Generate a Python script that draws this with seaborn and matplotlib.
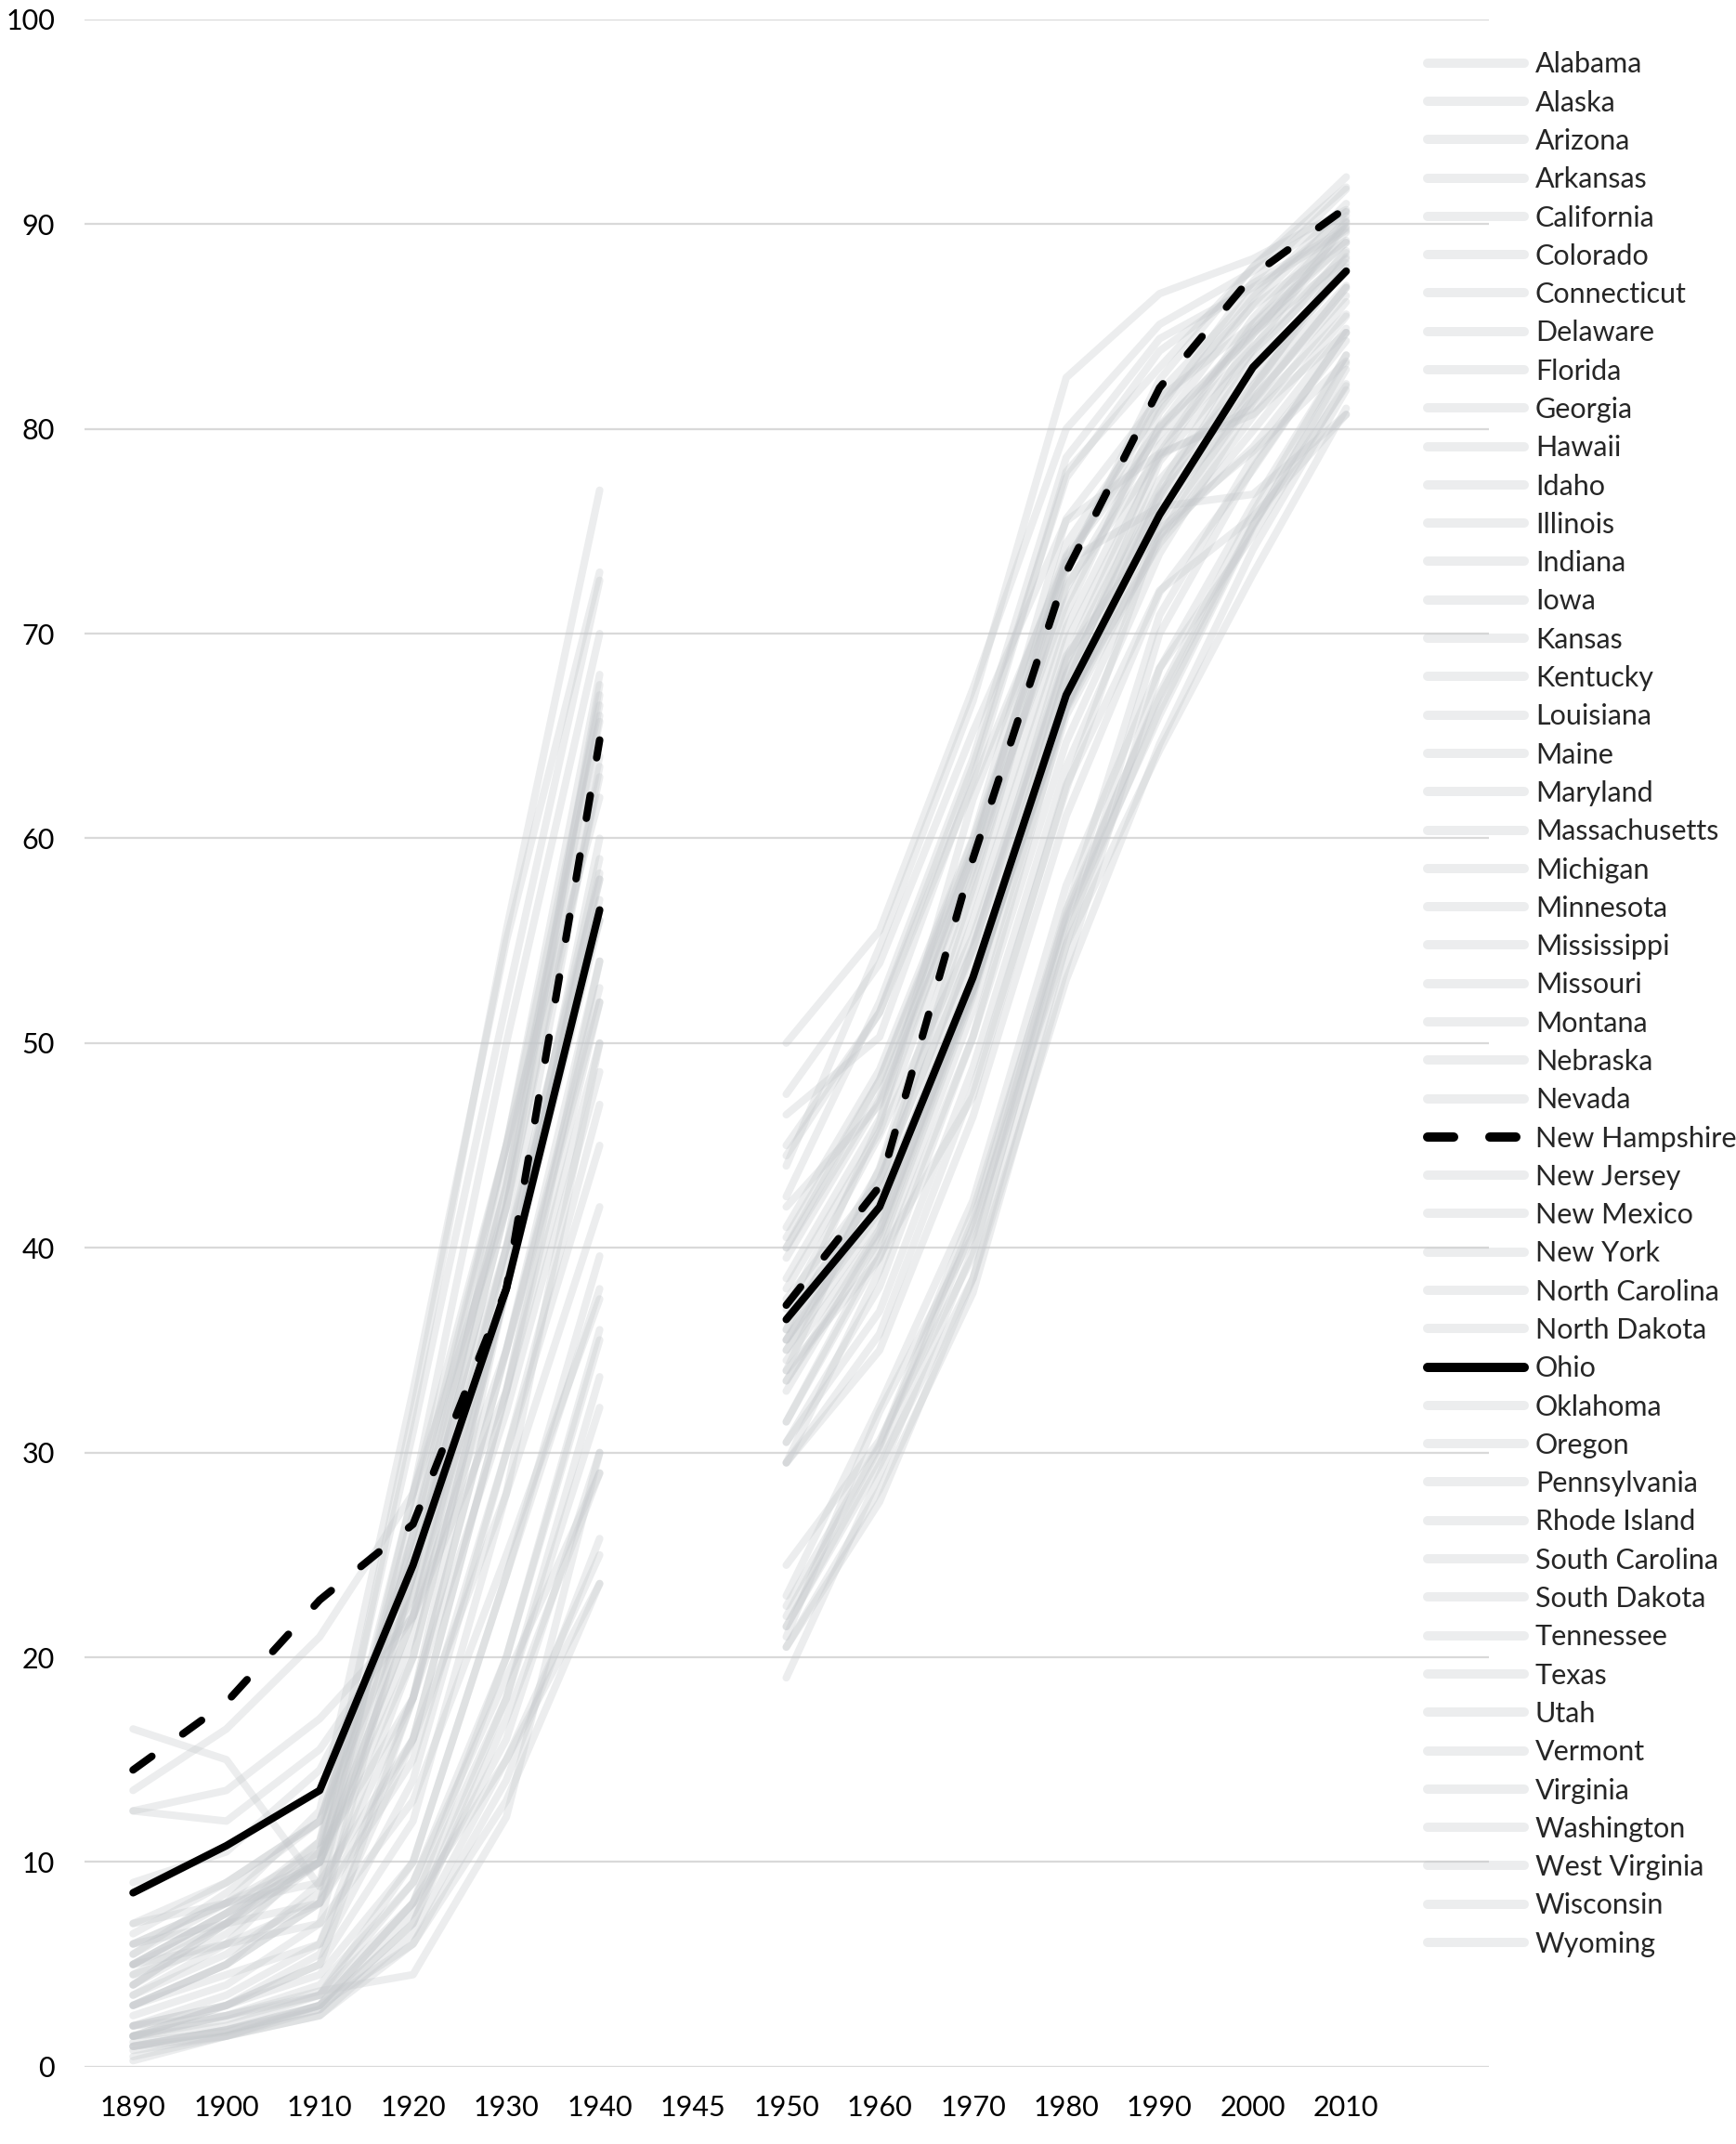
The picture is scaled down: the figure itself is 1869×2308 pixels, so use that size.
import pandas as pd
import numpy as np
import matplotlib
matplotlib.use('Agg')
import matplotlib.pyplot as plt
import seaborn as sns
from matplotlib.lines import Line2D

states = ['Alabama', 'Alaska', 'Arizona', 'Arkansas', 'California', 'Colorado', 'Connecticut',
          'Delaware', 'Florida', 'Georgia', 'Hawaii', 'Idaho', 'Illinois', 'Indiana', 'Iowa',
          'Kansas', 'Kentucky', 'Louisiana', 'Maine', 'Maryland', 'Massachusetts', 'Michigan',
          'Minnesota', 'Mississippi', 'Missouri', 'Montana', 'Nebraska', 'Nevada', 'New Hampshire',
          'New Jersey', 'New Mexico', 'New York', 'North Carolina', 'North Dakota', 'Ohio',
          'Oklahoma', 'Oregon', 'Pennsylvania', 'Rhode Island', 'South Carolina', 'South Dakota',
          'Tennessee', 'Texas', 'Utah', 'Vermont', 'Virginia', 'Washington', 'West Virginia',
          'Wisconsin', 'Wyoming']

# x axis categories (1945 is an empty category that splits the two series)
years = ['1890', '1900', '1910', '1920', '1930', '1940', '1945',
         '1950', '1960', '1970', '1980', '1990', '2000', '2010']

# values per year, same order as states
v1890 = [1.0, 3.0, 1.5, 0.8, 5.5, 4.0, 9.0, 6.0, 1.5, 1.2, 2.0, 2.5, 5.0, 6.5, 5.5, 4.5, 1.5, 1.0, 12.5, 5.0,
         13.5, 7.0, 4.0, 0.3, 3.5, 3.0, 4.0, 16.5, 14.5, 6.0, 0.5, 6.0, 1.0, 2.0, 8.5, 1.5, 5.0, 4.5, 7.0, 1.0,
         3.0, 1.5, 2.0, 3.5, 12.5, 2.0, 5.0, 1.5, 5.0, 3.0]
v1900 = [1.8, 4.5, 3.0, 1.5, 8.0, 7.0, 10.5, 7.0, 2.0, 1.7, 3.0, 4.0, 7.5, 9.0, 8.5, 7.0, 2.3, 1.8, 12.0, 6.0,
         16.5, 9.0, 6.5, 1.5, 5.5, 5.0, 7.0, 15.0, 17.8, 8.0, 1.5, 8.0, 1.5, 3.5, 10.8, 3.0, 7.0, 6.0, 8.0, 1.8,
         5.0, 2.5, 3.0, 6.0, 13.5, 2.5, 7.5, 2.5, 7.5, 5.0]
v1910 = [2.8, 6.0, 5.0, 2.5, 12.5, 10.0, 14.5, 8.0, 3.5, 3.0, 5.0, 7.0, 10.0, 12.0, 12.0, 10.5, 3.5, 3.0, 15.5, 7.0,
         21.0, 12.0, 10.0, 2.5, 8.5, 9.0, 11.0, 8.8, 22.8, 10.0, 3.0, 10.5, 2.8, 6.0, 13.5, 5.5, 10.0, 8.0, 9.0, 3.0,
         8.0, 3.5, 4.5, 10.5, 17.0, 3.7, 11.0, 4.0, 10.0, 8.0]
v1920 = [7.0, 18.0, 18.0, 6.0, 33.0, 27.0, 23.0, 15.0, 10.0, 7.5, 12.0, 24.0, 22.0, 25.0, 25.5, 24.0, 8.0, 8.0, 22.0, 13.0,
         28.0, 23.0, 22.0, 6.5, 18.0, 28.0, 26.0, 26.0, 26.5, 20.0, 8.0, 18.0, 7.0, 16.0, 24.5, 14.0, 28.0, 16.0, 16.0, 6.0,
         20.0, 9.0, 10.0, 32.0, 22.0, 4.5, 31.0, 9.0, 21.0, 24.0]
v1930 = [17.0, 35.0, 38.0, 14.0, 55.0, 45.0, 38.0, 30.0, 24.0, 16.0, 28.0, 44.0, 39.0, 40.0, 43.0, 42.0, 15.0, 18.0, 35.0, 25.0,
         42.0, 40.0, 40.0, 15.0, 32.0, 45.0, 43.0, 45.0, 38.0, 38.0, 20.0, 35.0, 18.0, 33.0, 38.0, 30.0, 50.0, 33.0, 28.0, 13.0,
         38.0, 19.0, 24.0, 55.5, 33.0, 12.2, 52.0, 20.0, 38.0, 42.0]
v1940 = [29.0, 52.0, 57.0, 25.8, 73.0, 66.5, 58.3, 45.0, 39.6, 30.0, 50.0, 65.7, 59.0, 56.0, 67.0, 64.0, 23.6, 32.2, 54.0, 37.5,
         63.0, 58.0, 63.5, 25.0, 48.6, 68.0, 66.0, 62.0, 64.8, 56.0, 35.5, 52.7, 33.7, 54.0, 56.5, 47.0, 70.0, 50.0, 42.0, 23.6,
         58.0, 29.0, 38.0, 77.0, 52.0, 30.0, 72.6, 36.0, 60.0, 67.5]
v1950 = [22.0, 44.0, 38.0, 19.0, 45.0, 42.5, 36.0, 35.5, 35.0, 21.0, 36.0, 40.0, 33.5, 35.5, 38.5, 40.5, 20.5, 23.0, 37.5, 31.5,
         42.0, 34.5, 34.0, 21.5, 30.5, 39.5, 40.0, 47.5, 37.2, 33.0, 37.0, 33.5, 21.5, 29.5, 36.5, 34.0, 41.0, 30.5, 29.5, 20.5,
         35.5, 22.5, 31.5, 50.0, 36.5, 29.5, 44.5, 24.5, 35.0, 46.5]
v1960 = [30.3, 54.7, 45.7, 28.9, 51.5, 52.0, 43.8, 43.3, 42.6, 32.0, 46.1, 48.2, 40.4, 41.8, 46.3, 48.2, 27.6, 32.3, 43.3, 40.0,
         47.0, 40.9, 43.9, 29.8, 36.9, 47.2, 47.4, 53.9, 43.0, 40.7, 45.5, 40.9, 29.4, 38.9, 42.0, 39.5, 48.7, 38.1, 35.0, 28.2,
         42.2, 30.4, 39.6, 55.5, 42.9, 35.8, 51.5, 30.6, 41.5, 50.3]
v1970 = [41.3, 66.7, 58.1, 39.9, 62.6, 63.9, 56.0, 54.6, 52.6, 40.6, 61.9, 59.5, 52.6, 52.9, 59.0, 59.9, 38.5, 42.3, 54.7, 52.3,
         58.5, 52.8, 57.6, 41.0, 48.8, 59.2, 59.3, 65.2, 59.0, 52.5, 55.2, 52.7, 38.5, 50.3, 53.2, 51.6, 60.0, 50.3, 46.4, 37.8,
         53.3, 41.8, 47.4, 67.3, 57.1, 47.8, 63.5, 39.6, 54.5, 62.9]
v1980 = [56.5, 82.5, 72.4, 55.5, 73.5, 78.6, 70.3, 68.6, 66.7, 56.4, 73.8, 73.7, 66.5, 66.4, 71.5, 73.3, 53.1, 57.7, 68.7, 67.4,
         72.2, 68.0, 73.1, 54.8, 63.5, 74.4, 73.4, 75.5, 73.0, 67.1, 68.9, 66.3, 54.8, 66.4, 67.0, 66.0, 75.6, 64.7, 61.1, 53.7,
         67.9, 56.2, 62.6, 80.0, 71.0, 62.4, 77.6, 56.0, 69.6, 77.9]
v1990 = [66.9, 86.6, 78.7, 66.3, 76.2, 84.4, 79.2, 77.5, 74.4, 70.9, 80.1, 79.7, 76.2, 75.6, 80.1, 81.3, 64.6, 68.3, 78.8, 78.4,
         80.0, 76.8, 82.4, 64.3, 73.9, 81.0, 81.8, 78.8, 82.0, 76.7, 75.1, 74.8, 70.0, 76.7, 75.8, 74.6, 81.5, 74.7, 72.0, 68.3,
         77.1, 67.1, 72.1, 85.1, 80.8, 75.2, 83.8, 66.0, 78.6, 83.0]
v2000 = [75.3, 88.3, 81.0, 75.3, 76.8, 86.9, 84.0, 82.6, 79.9, 78.6, 84.6, 84.7, 81.4, 82.1, 86.1, 86.0, 74.1, 74.8, 85.4, 83.8,
         84.8, 83.4, 87.9, 72.9, 81.3, 87.2, 86.6, 80.7, 87.5, 82.1, 78.9, 79.1, 78.1, 83.9, 83.0, 80.6, 85.1, 81.9, 78.0, 76.3,
         84.6, 75.9, 75.7, 87.7, 86.4, 81.5, 87.1, 75.2, 85.1, 87.9]
v2010 = [82.1, 90.7, 85.6, 82.9, 80.7, 89.7, 88.6, 87.7, 85.5, 84.3, 89.9, 88.3, 86.9, 87.0, 90.6, 89.2, 81.9, 82.2, 90.2, 88.1,
         89.1, 88.7, 91.8, 81.0, 86.9, 91.7, 90.4, 84.7, 90.8, 87.9, 83.3, 84.9, 84.7, 90.1, 87.7, 86.2, 89.1, 88.4, 84.7, 83.6,
         89.6, 83.6, 80.7, 90.6, 91.0, 86.5, 89.8, 83.2, 90.1, 92.3]

# dash patterns: one for the plot, one for the legend handle
plot_ls = {'New Hampshire': (0, (3.1, 5.1)), 'Ohio': '-'}
legend_ls = {'New Hampshire': (0, (2.8, 3.9)), 'Ohio': '-'}

wide = pd.DataFrame({'state': states,
                     '1890': v1890, '1900': v1900, '1910': v1910, '1920': v1920,
                     '1930': v1930, '1940': v1940, '1950': v1950, '1960': v1960,
                     '1970': v1970, '1980': v1980, '1990': v1990, '2000': v2000,
                     '2010': v2010})
df = wide.melt(id_vars='state', var_name='year', value_name='value')
df['pos'] = df['year'].map(years.index)
df['part'] = np.where(df['year'].astype(int) < 1945, 'early', 'late')

gray = '#c4c8cb'
gray_alpha = 0.32
lw = 5.8
leg_lw = 7.2

sns.set_theme(style='white')
plt.rcParams['font.family'] = ['Lato', 'DejaVu Sans']

fig = plt.figure(figsize=(18.69, 23.08), dpi=100)
ax = fig.add_axes([0.0487, 0.036, 0.809, 0.955])

others = df[~df['state'].isin(plot_ls.keys())]
for part in ['early', 'late']:
    sns.lineplot(data=others[others['part'] == part], x='pos', y='value', units='state',
                 estimator=None, color=gray, alpha=gray_alpha, lw=lw,
                 solid_capstyle='round', legend=False, ax=ax, zorder=2)

for st, ls in plot_ls.items():
    for part in ['early', 'late']:
        sub = df[(df['state'] == st) & (df['part'] == part)]
        sns.lineplot(data=sub, x='pos', y='value', color='black', lw=lw, linestyle=ls,
                     dash_capstyle='round', solid_capstyle='round', legend=False,
                     ax=ax, zorder=4 if st == 'New Hampshire' else 3)

ax.set_xticks(range(len(years)))
ax.set_xticklabels(years)
ax.set_yticks(range(0, 101, 10))
ax.set_xlim(-0.52, 14.53)
ax.set_ylim(0, 100)
ax.set_xlabel('')
ax.set_ylabel('')
ax.grid(axis='y', color='#d9d9d9', lw=1.6)
ax.grid(axis='x', visible=False)
ax.set_axisbelow(True)
for s in ax.spines.values():
    s.set_visible(False)
ax.tick_params(axis='both', length=0, labelsize=22, colors='black')
ax.tick_params(axis='x', pad=22)
ax.tick_params(axis='y', pad=23)

handles = []
for st in states:
    if st in legend_ls:
        handles.append(Line2D([], [], color='black', lw=leg_lw, linestyle=legend_ls[st],
                              dash_capstyle='round', solid_capstyle='round'))
    else:
        handles.append(Line2D([], [], color=gray, alpha=gray_alpha, lw=leg_lw,
                              solid_capstyle='round'))
fig.legend(handles, states, loc='upper left', bbox_to_anchor=(0.8224, 0.976),
           frameon=False, fontsize=22, handlelength=3.4, handletextpad=0.39,
           labelspacing=0.435, borderpad=0, borderaxespad=0)

fig.savefig('out.png', dpi=100)
plt.close()
